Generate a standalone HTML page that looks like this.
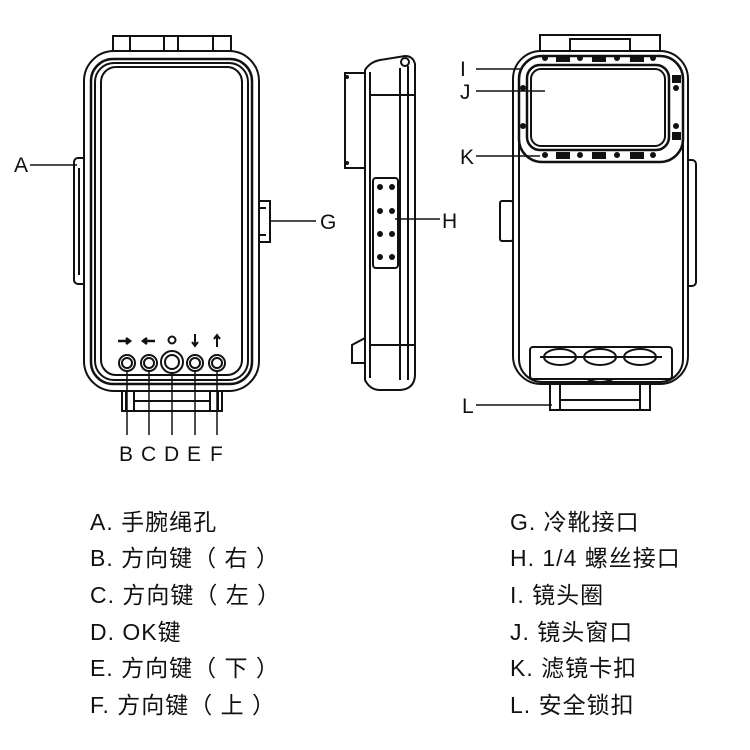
<!DOCTYPE html>
<html><head><meta charset="utf-8"><style>
html,body{margin:0;padding:0;background:#fff;width:750px;height:750px;overflow:hidden}
svg{position:absolute;left:0;top:0}
.t{font-family:"Liberation Sans","Noto Sans CJK SC",sans-serif;font-size:23px;letter-spacing:1px;fill:#111}
.l{font-family:"Liberation Sans",sans-serif;font-size:21px;fill:#111}
</style></head><body>
<svg width="750" height="750" viewBox="0 0 750 750" fill="none" stroke="#111" stroke-width="2">
<!-- FRONT VIEW -->
<rect x="113" y="36" width="118" height="18" stroke-width="2"/>
<line x1="130" y1="36" x2="130" y2="54"/><line x1="213" y1="36" x2="213" y2="54"/>
<line x1="164" y1="36" x2="164" y2="54"/><line x1="178" y1="36" x2="178" y2="54"/>
<rect x="84" y="51" width="175" height="340" rx="30" fill="#fff"/>
<rect x="91" y="59" width="161" height="325" rx="22" stroke-width="2.5"/>
<rect x="95" y="63" width="153" height="317" rx="19"/>
<rect x="101" y="67" width="141" height="308" rx="15"/>
<path d="M84 158 h-6 a4 4 0 0 0 -4 4 v118 a4 4 0 0 0 4 4 h6"/>
<line x1="79" y1="168" x2="79" y2="275"/>
<rect x="259" y="201" width="11" height="41"/>
<line x1="259" y1="208" x2="266" y2="208"/><line x1="259" y1="235" x2="266" y2="235"/>
<circle cx="127" cy="363" r="8"/><circle cx="127" cy="363" r="5"/>
<circle cx="149" cy="363" r="8"/><circle cx="149" cy="363" r="5"/>
<circle cx="172" cy="362" r="11"/><circle cx="172" cy="362" r="7"/>
<circle cx="195" cy="363" r="8"/><circle cx="195" cy="363" r="5"/>
<circle cx="217" cy="363" r="8"/><circle cx="217" cy="363" r="5"/>
<path d="M118 341 h10 M126 338 l4 3 l-4 3" stroke-width="2.5"/>
<path d="M145 341 h10 M147 338 l-4 3 l4 3" stroke-width="2.5"/>
<circle cx="172" cy="340" r="3.5"/>
<path d="M195 334 v11 M192 342 l3 4 l3 -4" stroke-width="2"/>
<path d="M217 336 v11 M214 339 l3 -4 l3 4" stroke-width="2"/>
<rect x="122" y="391" width="100" height="20"/>
<line x1="126" y1="391" x2="126" y2="411"/><line x1="134" y1="391" x2="134" y2="411"/>
<line x1="210" y1="391" x2="210" y2="411"/><line x1="218" y1="391" x2="218" y2="411"/>
<line x1="134" y1="401" x2="210" y2="401"/>
<g stroke-width="1.5">
<line x1="127" y1="371" x2="127" y2="435"/><line x1="149" y1="371" x2="149" y2="435"/>
<line x1="172" y1="373" x2="172" y2="435"/><line x1="195" y1="371" x2="195" y2="435"/>
<line x1="217" y1="371" x2="217" y2="435"/>
<line x1="30" y1="165" x2="77" y2="165"/>
<line x1="270" y1="221" x2="316" y2="221"/>
</g>
<!-- SIDE VIEW -->
<path d="M365 70 q5 -8 15 -10 l25 -4 q8 0 10 8 v310 q0 15 -15 16 h-20 q-10 0 -15 -10 z" fill="#fff"/>
<rect x="345" y="73" width="20" height="95"/>
<line x1="370" y1="72" x2="370" y2="378"/>
<line x1="400" y1="68" x2="400" y2="380"/><line x1="408" y1="66" x2="408" y2="380"/>
<line x1="370" y1="95" x2="415" y2="95"/><line x1="370" y1="345" x2="415" y2="345"/>
<path d="M365 338 l-13 7 v18 h13"/>
<circle cx="405" cy="62" r="4"/>
<rect x="373" y="178" width="25" height="90" rx="3"/>
<g fill="#111" stroke="none">
<circle cx="380" cy="187" r="3"/><circle cx="392" cy="187" r="3"/>
<circle cx="380" cy="211" r="3"/><circle cx="392" cy="211" r="3"/>
<circle cx="380" cy="234" r="3"/><circle cx="392" cy="234" r="3"/>
<circle cx="380" cy="257" r="3"/><circle cx="392" cy="257" r="3"/>
<circle cx="347" cy="77" r="2"/><circle cx="347" cy="163" r="2"/>
</g>
<line x1="395" y1="219" x2="440" y2="219" stroke-width="1.5"/>
<!-- BACK VIEW -->
<rect x="540" y="35" width="120" height="18"/>
<rect x="570" y="39" width="60" height="14"/>
<rect x="513" y="51" width="175" height="333" rx="28" fill="#fff"/>
<rect x="519" y="56" width="164" height="326" rx="23"/>
<rect x="519" y="56" width="164" height="106" rx="23" stroke-width="2.5"/>
<rect x="527" y="65" width="142" height="85" rx="13" stroke-width="2.5"/>
<rect x="531" y="69" width="134" height="77" rx="10"/>
<g fill="#111" stroke="none">
<circle cx="545" cy="58" r="3"/><circle cx="580" cy="58" r="3"/><circle cx="617" cy="58" r="3"/><circle cx="653" cy="58" r="3"/>
<rect x="556" y="55" width="14" height="7"/><rect x="592" y="55" width="14" height="7"/><rect x="630" y="55" width="14" height="7"/>
<circle cx="545" cy="155" r="3"/><circle cx="580" cy="155" r="3"/><circle cx="617" cy="155" r="3"/><circle cx="653" cy="155" r="3"/>
<rect x="556" y="152" width="14" height="7"/><rect x="592" y="152" width="14" height="7"/><rect x="630" y="152" width="14" height="7"/>
<circle cx="523" cy="88" r="3"/><circle cx="523" cy="126" r="3"/>
<circle cx="676" cy="88" r="3"/><circle cx="676" cy="126" r="3"/>
<rect x="672" y="75" width="9" height="8"/><rect x="672" y="132" width="9" height="8"/>
</g>
<rect x="500" y="201" width="13" height="40" rx="2"/>
<path d="M688 160 h4 a4 4 0 0 1 4 4 v118 a4 4 0 0 1 -4 4 h-4"/>
<rect x="530" y="347" width="142" height="32" rx="3"/>
<line x1="540" y1="357" x2="662" y2="357"/>
<ellipse cx="560" cy="357" rx="16" ry="8"/><ellipse cx="600" cy="357" rx="16" ry="8"/><ellipse cx="640" cy="357" rx="16" ry="8"/>
<rect x="550" y="384" width="100" height="26"/>
<line x1="560" y1="384" x2="560" y2="410"/><line x1="640" y1="384" x2="640" y2="410"/>
<line x1="560" y1="400" x2="640" y2="400"/>
<path d="M583 384 q17 -10 34 0"/>
<g stroke-width="1.5">
<line x1="476" y1="69" x2="520" y2="69"/>
<line x1="476" y1="91" x2="545" y2="91"/>
<line x1="476" y1="156" x2="540" y2="156"/>
<line x1="476" y1="405" x2="552" y2="405"/>
</g>
<g stroke="none">
<text class="l" x="14" y="172">A</text>
<text class="l" x="320" y="229">G</text>
<text class="l" x="442" y="228">H</text>
<text class="l" x="460" y="76">I</text>
<text class="l" x="460" y="99">J</text>
<text class="l" x="460" y="164">K</text>
<text class="l" x="462" y="413">L</text>
<text class="l" x="119" y="461">B</text>
<text class="l" x="141" y="461">C</text>
<text class="l" x="164" y="461">D</text>
<text class="l" x="187" y="461">E</text>
<text class="l" x="210" y="461">F</text>
<text class="t" x="90" y="530">A. 手腕绳孔</text>
<text class="t" x="90" y="566">B. 方向键（ 右 ）</text>
<text class="t" x="90" y="603">C. 方向键（ 左 ）</text>
<text class="t" x="90" y="640">D. OK键</text>
<text class="t" x="90" y="676">E. 方向键（ 下 ）</text>
<text class="t" x="90" y="713">F. 方向键（ 上 ）</text>
<text class="t" x="510" y="530">G. 冷靴接口</text>
<text class="t" x="510" y="566">H. 1/4 螺丝接口</text>
<text class="t" x="510" y="603">I. 镜头圈</text>
<text class="t" x="510" y="640">J. 镜头窗口</text>
<text class="t" x="510" y="676">K. 滤镜卡扣</text>
<text class="t" x="510" y="713">L. 安全锁扣</text>
</g>
</svg>
</body></html>
